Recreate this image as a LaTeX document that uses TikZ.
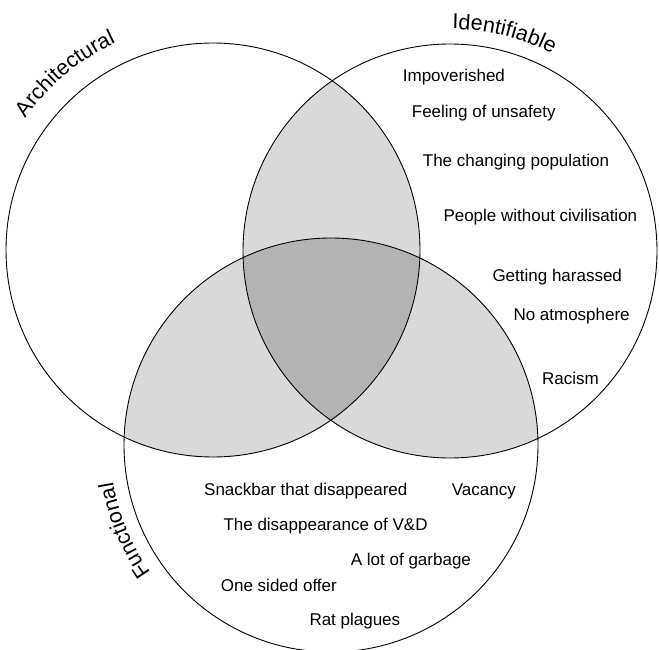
\documentclass[tikz,border=0pt]{standalone}
\usepackage{fontspec}
\setmainfont{Liberation Sans}
\usetikzlibrary{decorations.text}
\newcommand{\itemfont}{\fontsize{17}{20}\selectfont}
\newcommand{\labelfont}{\fontsize{21.5}{25}\selectfont}
\definecolor{pairgray}{HTML}{D9D9D9}
\definecolor{coregray}{HTML}{B3B3B3}
\begin{document}
\begin{tikzpicture}[x=1pt,y=1pt,
  ring/.style={draw=black, line width=0.9pt},
  item/.style={font=\itemfont, anchor=base west, inner sep=0pt},
  arclabel/.style={decorate, decoration={text along path, text align=center, text={#1}}}]
\useasboundingbox (0,0) rectangle (659,649);
\coordinate (cA) at (213,399);
\coordinate (cI) at (450,398);
\coordinate (cF) at (331,204);
\def\R{207}
% pairwise overlaps
\begin{scope}
  \clip (cA) circle (\R);
  \fill[pairgray] (cI) circle (\R);
  \fill[pairgray] (cF) circle (\R);
\end{scope}
\begin{scope}
  \clip (cI) circle (\R);
  \fill[pairgray] (cF) circle (\R);
\end{scope}
% triple overlap
\begin{scope}
  \clip (cA) circle (\R);
  \clip (cI) circle (\R);
  \fill[coregray] (cF) circle (\R);
\end{scope}
% outlines
\draw[ring] (cA) circle (\R);
\draw[ring] (cI) circle (\R);
\draw[ring] (cF) circle (\R);
% curved set labels
\path[arclabel={|\labelfont|Architectural}] (cA) ++(150:229) arc[start angle=150, end angle=110, radius=229];
\path[arclabel={|\labelfont|Identifiable}] (cI) ++(96:222) arc[start angle=96, end angle=56, radius=222];
\path[arclabel={|\labelfont|Functional}] (cF) ++(225:221) arc[start angle=225, end angle=180, radius=221];
% Identifiable items
\node[item] (t1) at (402.7,567.5) {Impoverished};
\node[item] (t2) at (411.7,531.8) {Feeling of unsafety};
\node[item] (t3) at (422.7,482) {The changing population};
\node[item] (t4) at (443.3,427) {People without civilisation};
\node[item] (t5) at (492.3,367) {Getting harassed};
\node[item] (t6) at (513.3,328.5) {No atmosphere};
\node[item] (t7) at (542,265) {Racism};
% Functional items
\node[item] (f1) at (204,153.5) {Snackbar that disappeared};
\node[item] (f2) at (451.7,153.5) {Vacancy};
\node[item] (f3) at (223.3,118.5) {The disappearance of V\&D};
\node[item] (f4) at (350.7,83.5) {A lot of garbage};
\node[item] (f5) at (220.7,57.5) {One sided offer};
\node[item] (f6) at (309.3,23.5) {Rat plagues};
\end{tikzpicture}
\end{document}
